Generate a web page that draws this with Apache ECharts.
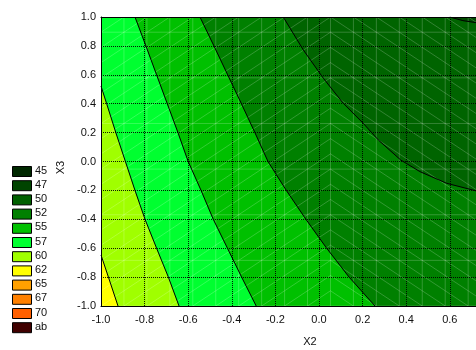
<!DOCTYPE html>
<html>
<head>
<meta charset="utf-8">
<script src="https://cdn.jsdelivr.net/npm/echarts@6/dist/echarts.min.js"></script>
<style>
html,body{margin:0;padding:0;background:#fff;}
#chart{width:476px;height:350px;}
</style>
</head>
<body>
<div id="chart"></div>
<script>
// ---- data ----
const xRange = [-1, 1];
const yRange = [-1, 1];
const tickStep = 0.2;

// contour lines (X2, X3), from upper/left edge to lower/right edge
const contour60   = [[-1,-0.647],[-0.966,-0.8],[-0.922,-1]];
const contour57_5 = [[-1,0.522],[-0.974,0.4],[-0.932,0.2],[-0.888,0.0],[-0.844,-0.2],[-0.798,-0.4],[-0.745,-0.6],[-0.691,-0.8],[-0.642,-1]];
const contour55   = [[-0.844,1],[-0.794,0.8],[-0.745,0.6],[-0.696,0.4],[-0.647,0.2],[-0.600,0.0],[-0.541,-0.2],[-0.485,-0.4],[-0.420,-0.6],[-0.355,-0.8],[-0.288,-1]];
const contour52_5 = [[-0.546,1],[-0.482,0.8],[-0.419,0.6],[-0.356,0.4],[-0.294,0.2],[-0.234,0.0],[-0.150,-0.2],[-0.060,-0.4],[0.035,-0.6],[0.138,-0.8],[0.257,-1]];
const contour50   = [[-0.164,1],[-0.072,0.772],[0.020,0.576],[0.111,0.403],[0.203,0.264],[0.272,0.149],[0.375,0.010],[0.463,-0.070],[0.586,-0.151],[0.720,-0.203],[0.850,-0.235],[1.0,-0.26]];
const contour47_5 = [[0.600,1],[0.660,0.975],[0.720,0.961],[0.850,0.945],[1.0,0.935]];

// band colours from highest (left) to lowest (upper right)
const bandColors = ['#ffff00','#a0ff00','#00ff30','#00c000','#008000','#006400','#004c00'];

// legend
const legendLabels = ['45','47','50','52','55','57','60','62','65','67','70','ab'];
const legendColors = ['#002800','#004400','#006000','#008000','#00c000','#00ff30','#a0ff00','#ffff00','#ffa000','#ff8000','#ff6000','#400000'];

// ---- build ----
const contours = [contour60, contour57_5, contour55, contour52_5, contour50, contour47_5];
const closers = [
  [[1,-1],[1,1],[-1,1]],
  [[1,-1],[1,1],[-1,1]],
  [[1,-1],[1,1]],
  [[1,-1],[1,1]],
  [[1,1]],
  [[1,1]]
];
const fills = [{pts: [[-1,-1],[1,-1],[1,1],[-1,1]], color: bandColors[0]}];
contours.forEach((c, i) => fills.push({pts: c.concat(closers[i]), color: bandColors[i+1]}));

const FONT = '"Liberation Sans", Arial, sans-serif';
const fmt = v => Math.abs(v) < 1e-9 ? '0.0' : v.toFixed(1);

const chart = echarts.init(document.getElementById('chart'), null, {renderer:'canvas'});

const legendGraphics = [];
legendLabels.forEach((lab, i) => {
  const top = 166 + i * 14.2;
  legendGraphics.push({type:'rect', left:12, top:top, shape:{width:19, height:10},
    style:{fill:legendColors[i], stroke:'#000', lineWidth:1}});
  legendGraphics.push({type:'text', left:35, top:top - 1,
    style:{text:lab, font:'11px ' + FONT, fill:'#111'}});
});

const N = 19; // mesh intervals
const meshSeries = {
  type:'custom', z:2, silent:true, clip:true,
  data:[[0,0]],
  renderItem: (params, api) => {
    const st = 2 / N;
    const children = [];
    const style = {stroke:'rgba(255,255,255,0.2)', lineWidth:1, fill:null};
    for (let k = 0; k <= N; k++) {
      const x = -1 + k*st;
      const a = api.coord([x, -1]), b = api.coord([x, 1]);
      children.push({type:'line', shape:{x1:a[0],y1:a[1],x2:b[0],y2:b[1]}, style});
    }
    for (let j = 1; j <= N; j += 3) {
      const y = 1 - j*st;
      const a = api.coord([-1, y]), b = api.coord([1, y]);
      children.push({type:'line', shape:{x1:a[0],y1:a[1],x2:b[0],y2:b[1]}, style});
    }
    for (let k = 0; k < N; k++) {
      for (let j = 0; j < N; j++) {
        const x0 = -1 + k*st, x1 = x0 + st;
        const yTop = 1 - j*st, yBot = yTop - st;
        let a, b;
        if (k < 10) { a = api.coord([x0, yBot]); b = api.coord([x1, yTop]); }
        else { a = api.coord([x0, yTop]); b = api.coord([x1, yBot]); }
        children.push({type:'line', shape:{x1:a[0],y1:a[1],x2:b[0],y2:b[1]}, style});
      }
    }
    return {type:'group', children};
  }
};

const option = {
  animation:false,
  backgroundColor:'#fff',
  grid:{left:101, top:17, width:436, height:289, containLabel:false, outerBoundsMode:'none'},
  xAxis:[{
    type:'value', min:xRange[0], max:xRange[1], interval:tickStep, z:3,
    name:'X2', nameLocation:'middle', nameGap:30,
    nameTextStyle:{fontFamily:FONT, fontSize:11, color:'#111', padding:[0,18,0,0]},
    axisLine:{show:true, onZero:false, lineStyle:{color:'#000', width:1}},
    axisTick:{show:false},
    axisLabel:{fontFamily:FONT, fontSize:11, color:'#111', margin:8, formatter:fmt},
    splitLine:{show:true, lineStyle:{color:'#000', width:1, type:[1,1], opacity:0.9}}
  },{
    type:'value', position:'top', min:xRange[0], max:xRange[1], interval:tickStep, z:3,
    axisLine:{show:true, onZero:false, lineStyle:{color:'#000', width:1}},
    axisTick:{show:false}, axisLabel:{show:false}, splitLine:{show:false}
  }],
  yAxis:{
    type:'value', min:yRange[0], max:yRange[1], interval:tickStep, z:3,
    name:'X3', nameLocation:'middle', nameGap:34, nameRotate:90,
    nameTextStyle:{fontFamily:FONT, fontSize:11, color:'#111', padding:[0,12,0,0]},
    axisLine:{show:true, onZero:false, lineStyle:{color:'#000', width:1}},
    axisTick:{show:false},
    axisLabel:{fontFamily:FONT, fontSize:11, color:'#111', margin:5, formatter:fmt},
    splitLine:{show:true, lineStyle:{color:'#000', width:1, type:[1,1], opacity:0.9}}
  },
  graphic: legendGraphics,
  series: [
    {
      type:'custom', z:1, silent:true, clip:true,
      data: fills.map(() => [0,0]),
      renderItem: (params, api) => {
        const f = fills[params.dataIndex];
        return {type:'polygon', shape:{points: f.pts.map(p => api.coord(p))},
          style:{fill:f.color, stroke:f.color, lineWidth:0.5}};
      }
    },
    meshSeries
  ].concat(contours.map(c => ({
    type:'line', data:c, z:4, silent:true, showSymbol:false, symbol:'none', clip:true,
    lineStyle:{color:'#000', width:1}
  })))
};
chart.setOption(option);
</script>
</body>
</html>
